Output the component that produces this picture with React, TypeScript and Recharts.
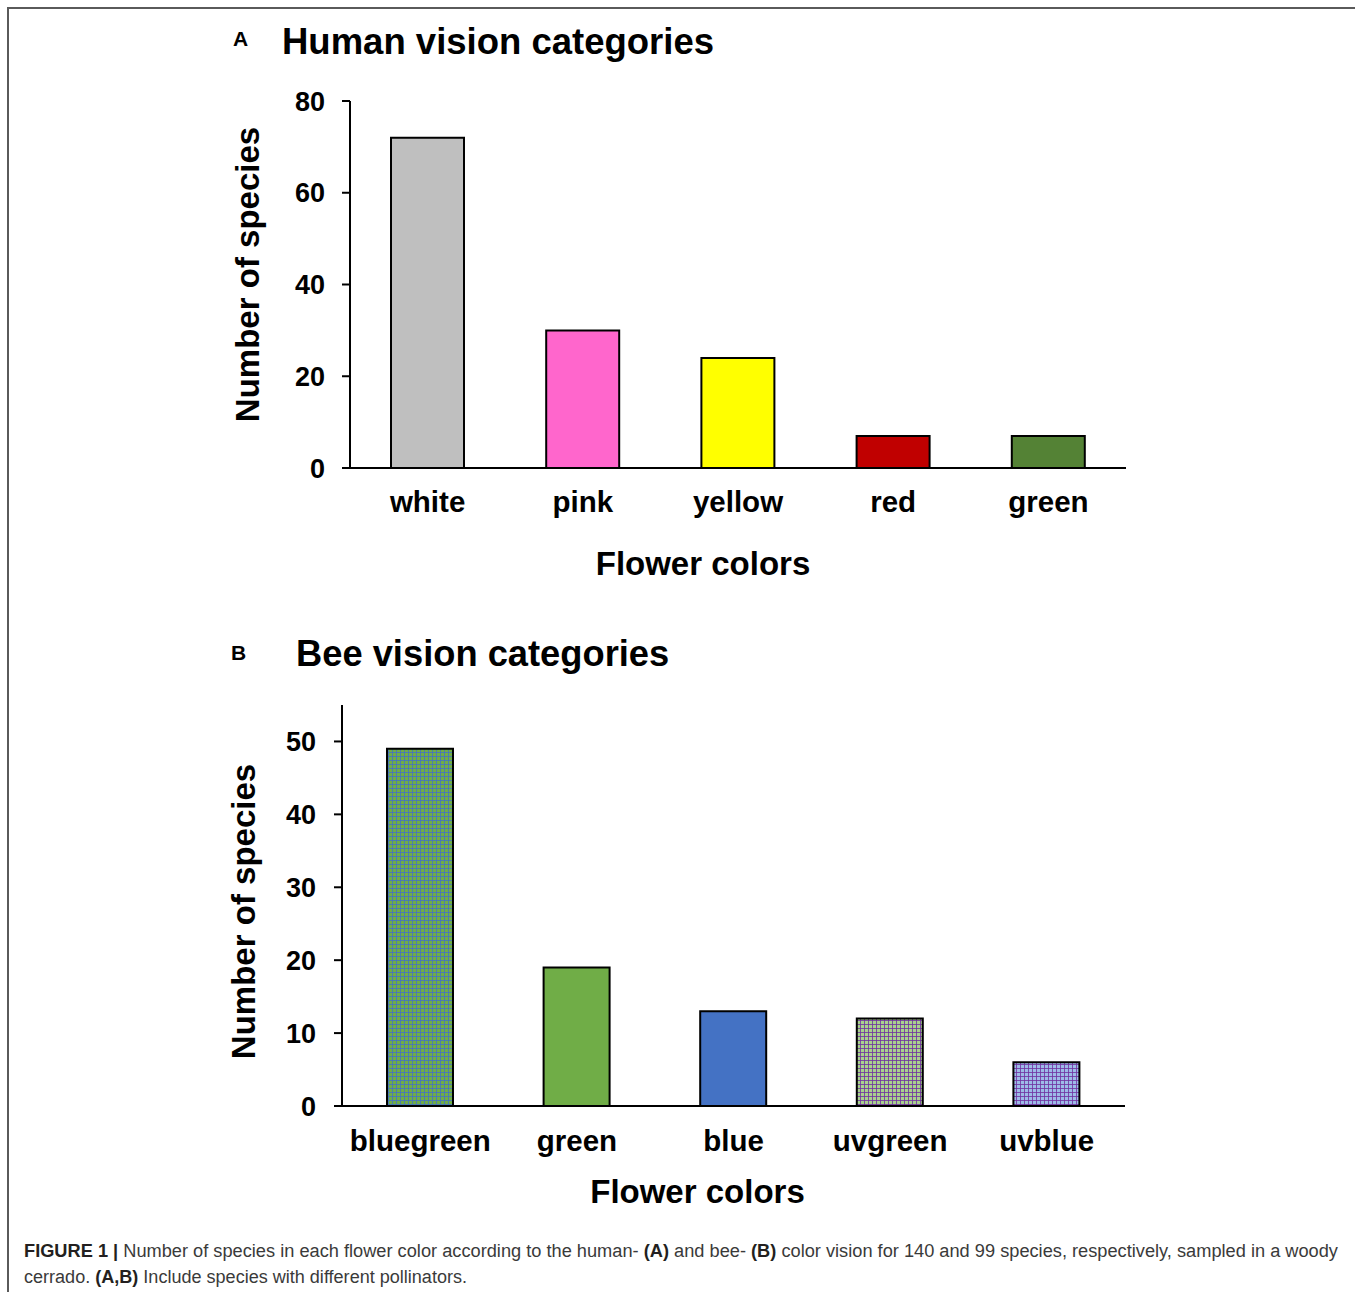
import { BarChart, Bar, XAxis, YAxis, Cell, Label } from "recharts";

// Panel A: flower colours as people see them
const humanColors = ["white", "pink", "yellow", "red", "green"];
const humanCounts = [72, 30, 24, 7, 7];
const humanFills = ["#bfbfbf", "#ff66cc", "#ffff00", "#c00000", "#548235"];
const humanTicks = [0, 20, 40, 60, 80];

// Panel B: flower colours in bee colour space
const beeColors = ["bluegreen", "green", "blue", "uvgreen", "uvblue"];
const beeCounts = [49, 19, 13, 12, 6];
const beeFills = ["url(#bluegreen)", "#70ad47", "#4472c4", "url(#uvgreen)", "url(#uvblue)"];
const beeTicks = [0, 10, 20, 30, 40, 50];

const FONT = '"Liberation Sans", Arial, sans-serif';

const humanData = humanColors.map((name, i) => ({ name, count: humanCounts[i] }));
const beeData = beeColors.map((name, i) => ({ name, count: beeCounts[i] }));

const tickY = { fontSize: 27, fontWeight: 700, fill: "#000", fontFamily: FONT };
const tickX = { fontSize: 29.5, fontWeight: 700, fill: "#000", fontFamily: FONT };
const axisLine = { stroke: "#000", strokeWidth: 2 };

// rotated y title, placed relative to the axis box
function yTitle(dx: number, dy: number) {
  return (props: any) => {
    const vb = props.viewBox;
    const x = vb.x + dx;
    const y = vb.y + vb.height / 2 + dy;
    return (
      <text
        x={x}
        y={y}
        transform={`rotate(-90 ${x} ${y})`}
        textAnchor="middle"
        dominantBaseline="central"
        fontSize={33}
        fontWeight={700}
        fontFamily={FONT}
        fill="#000"
      >
        Number of species
      </text>
    );
  };
}

// x title: baseline sits `up` px above the bottom of the axis box
function xTitle(dx: number, up: number) {
  return (props: any) => {
    const vb = props.viewBox;
    return (
      <text
        x={vb.x + vb.width / 2 + dx}
        y={vb.y + vb.height - up}
        textAnchor="middle"
        fontSize={33}
        fontWeight={700}
        fontFamily={FONT}
        fill="#000"
      >
        Flower colors
      </text>
    );
  };
}

function Plaid({ id, base, line }: { id: string; base: string; line: string }) {
  return (
    <pattern id={id} width={4} height={4} patternUnits="userSpaceOnUse">
      <rect width={4} height={4} fill={base} />
      <rect width={4} height={0.8} fill={line} />
      <rect width={0.8} height={4} fill={line} />
    </pattern>
  );
}

export default function App() {
  return (
    <div style={{ position: "absolute", left: 0, top: 0, width: 1355, height: 1292, background: "#fff" }}>
      <div
        style={{
          position: "absolute",
          left: 7,
          top: 7,
          width: 1360,
          height: 1300,
          borderTop: "2px solid #5a5a5a",
          borderLeft: "2px solid #5a5a5a",
        }}
      />

      <svg width={1355} height={1292} style={{ position: "absolute", left: 0, top: 0 }}>
        <g fontFamily={FONT} fontWeight={700} fill="#000">
          <text x={233} y={46} fontSize={21}>A</text>
          <text x={282} y={54} fontSize={36.5}>Human vision categories</text>
          <text x={231} y={660} fontSize={21}>B</text>
          <text x={296} y={666} fontSize={36.3}>Bee vision categories</text>
        </g>
        <g fontFamily={'"Liberation Sans Narrow", "Liberation Sans", Arial, sans-serif'} fontSize={18} fill="#3a3a3a">
          <text x={24} y={1257} textLength={1314} lengthAdjust="spacingAndGlyphs">
            <tspan fontWeight={700} fill="#231f20">FIGURE 1 |</tspan> Number of species in each flower color
            according to the human- <tspan fontWeight={700} fill="#231f20">(A)</tspan> and bee-{" "}
            <tspan fontWeight={700} fill="#231f20">(B)</tspan> color vision for 140 and 99 species, respectively,
            sampled in a woody
          </text>
          <text x={24} y={1283} textLength={443} lengthAdjust="spacingAndGlyphs">
            cerrado. <tspan fontWeight={700} fill="#231f20">(A,B)</tspan> Include species with different
            pollinators.
          </text>
        </g>
      </svg>

      <div style={{ position: "absolute", left: 200, top: 60 }}>
        <BarChart width={980} height={560} data={humanData} margin={{ top: 41, right: 54, left: 0, bottom: 0 }}>
          <XAxis
            dataKey="name"
            height={152}
            axisLine={axisLine}
            tickLine={false}
            tickSize={0}
            tickMargin={23}
            tick={tickX}
            interval={0}
          >
            <Label content={xTitle(-35, 45)} />
          </XAxis>
          <YAxis
            width={150}
            domain={[0, 80]}
            ticks={humanTicks}
            axisLine={axisLine}
            tickLine={axisLine}
            tickSize={8}
            tickMargin={17}
            tick={tickY}
          >
            <Label content={yTitle(47, -10)} />
          </YAxis>
          <Bar dataKey="count" barSize={73} stroke="#000" strokeWidth={2} isAnimationActive={false}>
            {humanData.map((d, i) => (
              <Cell key={d.name} fill={humanFills[i]} />
            ))}
          </Bar>
        </BarChart>
      </div>

      <div style={{ position: "absolute", left: 200, top: 680 }}>
        <BarChart width={980} height={560} data={beeData} margin={{ top: 25, right: 55, left: 0, bottom: 0 }}>
          <defs>
            <Plaid id="bluegreen" base="#70ad47" line="#4472c4" />
            <Plaid id="uvgreen" base="#a9d18e" line="#7030a0" />
            <Plaid id="uvblue" base="#9dbbe8" line="#7030a0" />
          </defs>
          <XAxis
            dataKey="name"
            height={134}
            axisLine={axisLine}
            tickLine={false}
            tickSize={0}
            tickMargin={24}
            tick={tickX}
            interval={0}
          >
            <Label content={xTitle(-36, 37)} />
          </XAxis>
          <YAxis
            width={142}
            domain={[0, 55]}
            ticks={beeTicks}
            axisLine={axisLine}
            tickLine={axisLine}
            tickSize={8}
            tickMargin={18}
            tick={tickY}
          >
            <Label content={yTitle(43, 6)} />
          </YAxis>
          <Bar dataKey="count" barSize={66} stroke="#000" strokeWidth={2} isAnimationActive={false}>
            {beeData.map((d, i) => (
              <Cell key={d.name} fill={beeFills[i]} />
            ))}
          </Bar>
        </BarChart>
      </div>
    </div>
  );
}
